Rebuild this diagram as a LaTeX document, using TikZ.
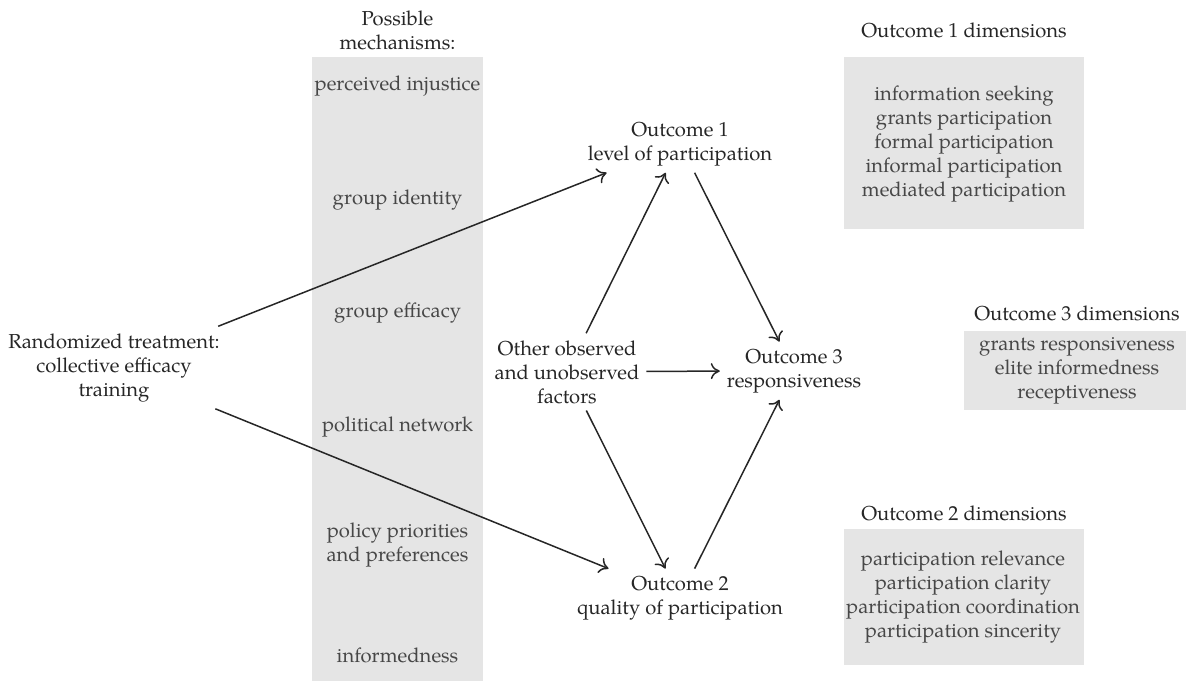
\documentclass[tikz,border=0pt]{standalone}
\usepackage{fontspec}
\IfFontExistsTF{TeX Gyre Pagella}
  {\setmainfont{TeX Gyre Pagella}\newcommand\myfsz{\fontsize{10.1}{12}\selectfont}}
  {\setmainfont{Liberation Serif}\newcommand\myfsz{\fontsize{10.9}{12}\selectfont}}
\usetikzlibrary{arrows.meta}
\begin{document}
\begin{tikzpicture}[x=0.5pt,y=-0.5pt,
  every node/.style={font=\myfsz, text=black!85},
  lbl/.style={align=center, anchor=base},
  inbox/.style={align=center, anchor=base, text=black!72},
  gbox/.style={fill=black!10, draw=none, inner sep=0pt, outer sep=0pt, anchor=north west},
  arr/.style={draw=black!85, line width=0.75pt, -{To[length=4.5pt,width=8pt]}}
]
\useasboundingbox (0,0) rectangle (1186,681);
% grey boxes
\node[gbox, minimum width=85.5pt, minimum height=312pt] (mechbox) at (312,57) {};
\node[gbox, minimum width=120pt, minimum height=86pt] (o1box) at (844,57) {};
\node[gbox, minimum width=111pt, minimum height=39.5pt] (o3box) at (964,331) {};
\node[gbox, minimum width=120pt, minimum height=68pt] (o2box) at (844,529) {};
% mechanisms (anchor base = last line)
\node[lbl] (mechtitle) at (397.5,49) {Possible\\mechanisms:};
\node[inbox] (m1) at (397.5,90) {perceived injustice};
\node[inbox] (m2) at (397.5,204) {group identity};
\node[inbox] (m3) at (397.5,317) {group efficacy};
\node[inbox] (m4) at (397.5,431) {political network};
\node[inbox] (m5) at (397.5,561) {policy priorities\\and preferences};
\node[inbox] (m6) at (397.5,662) {informedness};
% main nodes
\node[lbl] (rand) at (114,396) {Randomized treatment:\\collective efficacy\\training};
\node[lbl] (o1) at (680,160) {Outcome 1\\level of participation};
\node[lbl] (other) at (567,403) {Other observed\\and unobserved\\factors};
\node[lbl] (o3) at (794,387) {Outcome 3\\responsiveness};
\node[lbl] (o2) at (680,614) {Outcome 2\\quality of participation};
% dimensions
\node[lbl] (o1title) at (964,37) {Outcome 1 dimensions};
\node[inbox] (o1dims) at (964,196) {information seeking\\grants participation\\formal participation\\informal participation\\mediated participation};
\node[lbl] (o3title) at (1077,320) {Outcome 3 dimensions};
\node[inbox] (o3dims) at (1077,398) {grants responsiveness\\elite informedness\\receptiveness};
\node[lbl] (o2title) at (964,520) {Outcome 2 dimensions};
\node[inbox] (o2dims) at (963,637) {participation relevance\\participation clarity\\participation coordination\\participation sincerity};
% arrows
\draw[arr] (rand) -- (o1);
\draw[arr] (rand) -- (o2);
\draw[arr] (other) -- (o1);
\draw[arr] (other) -- (o2);
\draw[arr] (other) -- (o3);
\draw[arr] (o1) -- (o3);
\draw[arr] (o2) -- (o3);
\end{tikzpicture}
\end{document}
